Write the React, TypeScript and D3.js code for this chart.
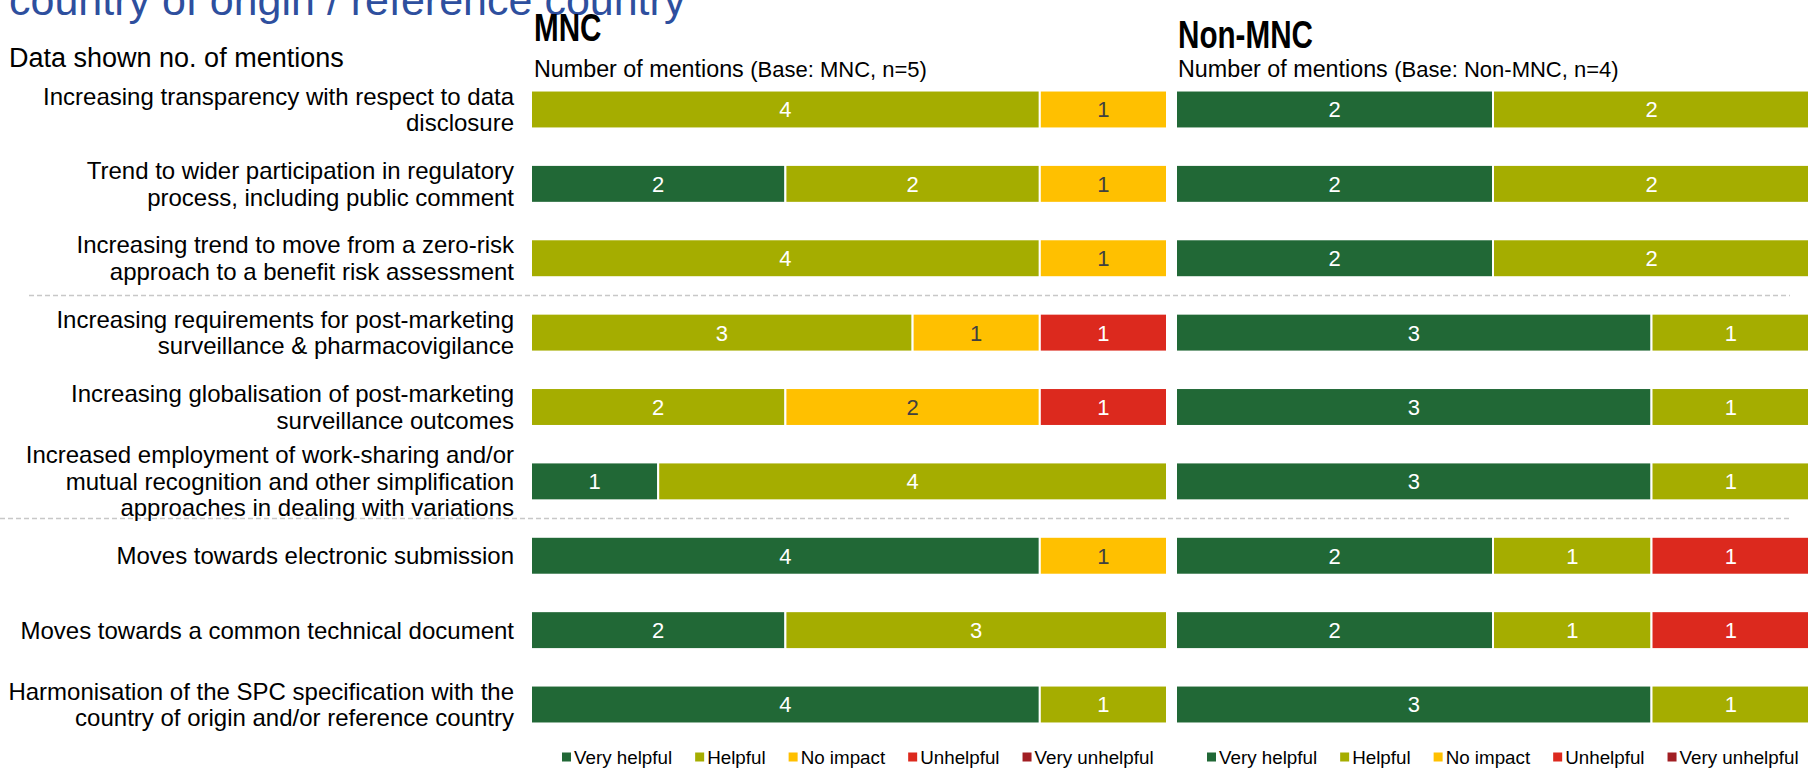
import React, { useEffect, useRef } from "react";
import * as d3 from "d3";

const W = 1808;
const H = 768;

const categoryLines: string[][] = [
  ["Increasing transparency with respect to data", "disclosure"],
  ["Trend to wider participation in regulatory", "process, including public comment"],
  ["Increasing trend to move from a zero-risk", "approach to a benefit risk assessment"],
  ["Increasing requirements for post-marketing", "surveillance & pharmacovigilance"],
  ["Increasing globalisation of post-marketing", "surveillance outcomes"],
  ["Increased employment of work-sharing and/or", "mutual recognition and other simplification", "approaches in dealing with variations"],
  ["Moves towards electronic submission"],
  ["Moves towards a common technical document"],
  ["Harmonisation of the SPC specification with the", "country of origin and/or reference country"],
];

const seriesKeys = ["Very helpful", "Helpful", "No impact", "Unhelpful", "Very unhelpful"];
const seriesColors = ["#216836", "#A5AD00", "#FFC000", "#DC291E", "#A11E23"];
const labelColors = ["#FFFFFF", "#FFFFFF", "#404040", "#FFFFFF", "#FFFFFF"];

const mncVeryHelpful = [0, 2, 0, 0, 0, 1, 4, 2, 4];
const mncHelpful = [4, 2, 4, 3, 2, 4, 0, 3, 1];
const mncNoImpact = [1, 1, 1, 1, 2, 0, 1, 0, 0];
const mncUnhelpful = [0, 0, 0, 1, 1, 0, 0, 0, 0];
const mncVeryUnhelpful = [0, 0, 0, 0, 0, 0, 0, 0, 0];

const nonVeryHelpful = [2, 2, 2, 3, 3, 3, 2, 2, 3];
const nonHelpful = [2, 2, 2, 1, 1, 1, 1, 1, 1];
const nonNoImpact = [0, 0, 0, 0, 0, 0, 0, 0, 0];
const nonUnhelpful = [0, 0, 0, 0, 0, 0, 1, 1, 0];
const nonVeryUnhelpful = [0, 0, 0, 0, 0, 0, 0, 0, 0];

const groupTitles = ["MNC", "Non-MNC"];
const groupBases = ["(Base: MNC, n=5)", "(Base: Non-MNC, n=4)"];
const groupTotals = [5, 4];
const titleText = "country of origin / reference country";
const noteText = "Data shown no. of mentions";
const subtitleText = "Number of mentions";

const FONT = "'Liberation Sans', Arial, sans-serif";

export default function App() {
  const ref = useRef<SVGSVGElement | null>(null);

  useEffect(() => {
    document.body.style.margin = "0";
    document.body.style.overflow = "hidden";
    const svg = d3.select(ref.current);
    svg.selectAll("*").remove();

    const groupData = [
      [mncVeryHelpful, mncHelpful, mncNoImpact, mncUnhelpful, mncVeryUnhelpful],
      [nonVeryHelpful, nonHelpful, nonNoImpact, nonUnhelpful, nonVeryUnhelpful],
    ];
    const xRanges: [number, number][] = [
      [531, 1167],
      [1176, 1810],
    ];
    const titlePos = [
      [534, 41],
      [1178, 48],
    ];

    const y = d3
      .scaleBand<number>()
      .domain(d3.range(categoryLines.length))
      .range([72.3, 741.7])
      .paddingInner(0.49)
      .paddingOuter(0.245);

    // title (clipped)
    svg
      .append("text")
      .attr("x", 9)
      .attr("y", 15)
      .attr("font-family", FONT)
      .attr("font-size", 43)
      .attr("fill", "#2E4F9E")
      .text(titleText);

    svg
      .append("text")
      .attr("x", 9)
      .attr("y", 67)
      .attr("font-family", FONT)
      .attr("font-size", 27)
      .attr("fill", "#000")
      .text(noteText);

    // separators
    const sepAfter = [2, 5];
    const sepStart = [29, 0];
    sepAfter.forEach((i, k) => {
      const yy = ((y(i) as number) + y.bandwidth() + (y(i + 1) as number)) / 2;
      svg
        .append("line")
        .attr("x1", sepStart[k])
        .attr("x2", 1790)
        .attr("y1", yy)
        .attr("y2", yy)
        .attr("stroke", "#C8C8C8")
        .attr("stroke-width", 1.5)
        .attr("stroke-dasharray", "5,3");
    });

    // row labels
    const lh = 26.5;
    categoryLines.forEach((lines, i) => {
      const cy = (y(i) as number) + y.bandwidth() / 2;
      const t = svg
        .append("text")
        .attr("text-anchor", "end")
        .attr("font-family", FONT)
        .attr("font-size", 24)
        .attr("fill", "#000");
      lines.forEach((ln, j) => {
        t.append("tspan")
          .attr("x", 514)
          .attr("y", cy + (j - (lines.length - 1) / 2) * lh)
          .attr("dy", "0.35em")
          .text(ln);
      });
    });

    groupData.forEach((series, g) => {
      const x = d3.scaleLinear().domain([0, groupTotals[g]]).range(xRanges[g]);
      const rows = categoryLines.map((_, i) => {
        const o: any = { idx: i };
        seriesKeys.forEach((k, s) => (o[k] = series[s][i]));
        return o;
      });
      const stacked = d3.stack<any>().keys(seriesKeys)(rows);

      const gg = svg.append("g");
      stacked.forEach((layer, s) => {
        layer.forEach((d) => {
          const v = d[1] - d[0];
          if (v <= 0) return;
          const yy = y(d.data.idx) as number;
          gg.append("rect")
            .attr("x", x(d[0]))
            .attr("y", yy)
            .attr("width", x(d[1]) - x(d[0]))
            .attr("height", y.bandwidth())
            .attr("fill", seriesColors[s])
            .attr("stroke", "#FFFFFF")
            .attr("stroke-width", 2);
          gg.append("text")
            .attr("x", (x(d[0]) + x(d[1])) / 2)
            .attr("y", yy + y.bandwidth() / 2)
            .attr("dy", "0.36em")
            .attr("text-anchor", "middle")
            .attr("font-family", FONT)
            .attr("font-size", 22)
            .attr("fill", labelColors[s])
            .text(String(v));
        });
      });

      // headings (condensed bold)
      svg
        .append("text")
        .attr("transform", `translate(${titlePos[g][0]},${titlePos[g][1]}) scale(0.76,1)`)
        .attr("font-family", FONT)
        .attr("font-size", 39)
        .attr("font-weight", "bold")
        .attr("fill", "#000")
        .text(groupTitles[g]);
      const st = svg
        .append("text")
        .attr("x", titlePos[g][0])
        .attr("y", 77)
        .attr("font-family", FONT)
        .attr("fill", "#000");
      st.append("tspan").attr("font-size", 23.3).text(subtitleText + " ");
      st.append("tspan").attr("font-size", 22).text(groupBases[g]);

      // legend
      const lg = svg.append("g");
      let lx = xRanges[g][0] + 31;
      const ly = 757;
      seriesKeys.forEach((k, s) => {
        lg.append("rect")
          .attr("x", lx)
          .attr("y", ly - 4.5)
          .attr("width", 9)
          .attr("height", 9)
          .attr("fill", seriesColors[s]);
        const t = lg
          .append("text")
          .attr("x", lx + 12)
          .attr("y", ly)
          .attr("dy", "0.35em")
          .attr("font-family", FONT)
          .attr("font-size", 18.8)
          .attr("fill", "#000")
          .text(k);
        const tw = (t.node() as SVGTextElement).getComputedTextLength();
        lx += 12 + tw + 23;
      });
    });
  }, []);

  return (
    <svg
      ref={ref}
      width={W}
      height={H}
      style={{ position: "absolute", left: 0, top: 0, background: "#fff" }}
    />
  );
}
